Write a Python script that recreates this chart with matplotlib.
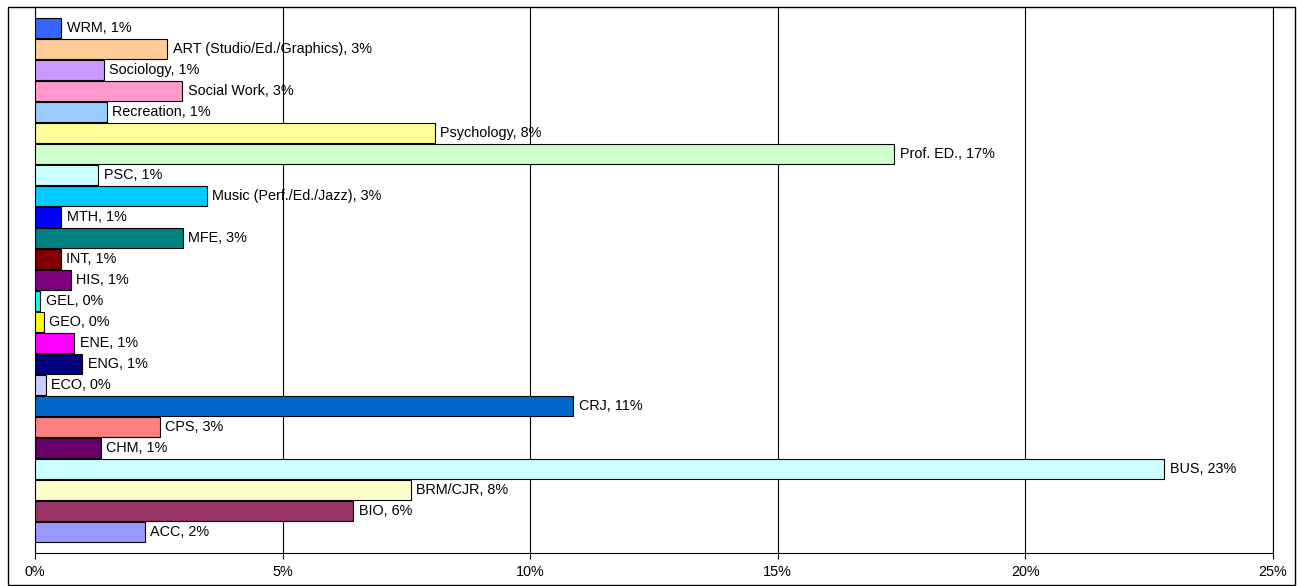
import matplotlib.pyplot as plt
from matplotlib.patches import Rectangle
from matplotlib.ticker import FuncFormatter

plt.rcParams['font.family'] = ['Liberation Sans', 'DejaVu Sans']
plt.rcParams['font.size'] = 10.4

# majors, listed bottom to top
majors = ["ACC", "BIO", "BRM/CJR", "BUS", "CHM", "CPS", "CRJ", "ECO", "ENG",
          "ENE", "GEO", "GEL", "HIS", "INT", "MFE", "MTH",
          "Music (Perf./Ed./Jazz)", "PSC", "Prof. ED.", "Psychology",
          "Recreation", "Social Work", "Sociology",
          "ART (Studio/Ed./Graphics)", "WRM"]
share = [2.22, 6.43, 7.59, 22.8, 1.33, 2.52, 10.87, 0.22, 0.95,
         0.79, 0.18, 0.10, 0.72, 0.52, 2.98, 0.53,
         3.47, 1.28, 17.35, 8.07,
         1.45, 2.97, 1.39,
         2.67, 0.53]
colors = ["#9999FF", "#993366", "#FFFFCC", "#CCFFFF", "#660066", "#FF8080",
          "#0066CC", "#CCCCFF", "#000080", "#FF00FF", "#FFFF00", "#00FFFF",
          "#800080", "#800000", "#008080", "#0000FF", "#00CCFF", "#CCFFFF",
          "#CCFFCC", "#FFFF99", "#99CCFF", "#FF99CC", "#CC99FF", "#FFCC99",
          "#3366FF"]

W, H = 1297, 586
fig = plt.figure(figsize=(W / 100, H / 100), dpi=100)
ax = fig.add_axes([35 / W, (H - 553) / H, (1273 - 35) / W, (553 - 7) / H])

pos = list(range(len(majors)))
ax.barh(pos, share, height=0.95, color=colors, edgecolor="black",
        linewidth=0.8, zorder=3)

for y, name, v in zip(pos, majors, share):
    ax.annotate(f"{name}, {round(v):.0f}%", xy=(v, y), xytext=(4, 0),
                textcoords="offset points", va="center", ha="left",
                fontsize=10.4, zorder=4)

ax.set_xlim(0, 25)
ax.set_ylim(-1, len(majors))
ax.set_xticks([0, 5, 10, 15, 20, 25])
ax.xaxis.set_major_formatter(FuncFormatter(lambda x, p: f"{x:.0f}%"))
ax.set_yticks([])
ax.tick_params(axis="x", direction="out", length=4, width=0.8, pad=5,
               labelsize=10.4)
ax.grid(axis="x", color="black", linewidth=0.8, zorder=1)
ax.axvline(25, color="black", linewidth=0.8, clip_on=False, zorder=1)
for s in ["top", "right"]:
    ax.spines[s].set_visible(False)
for s in ["left", "bottom"]:
    ax.spines[s].set_linewidth(0.8)

# outer chart border
fig.patches.append(Rectangle((8 / W, 1 / H), (1295 - 8) / W, (585 - 7) / H,
                             transform=fig.transFigure, fill=False,
                             edgecolor="black", linewidth=1.0))

fig.savefig("out.png", dpi=100)
